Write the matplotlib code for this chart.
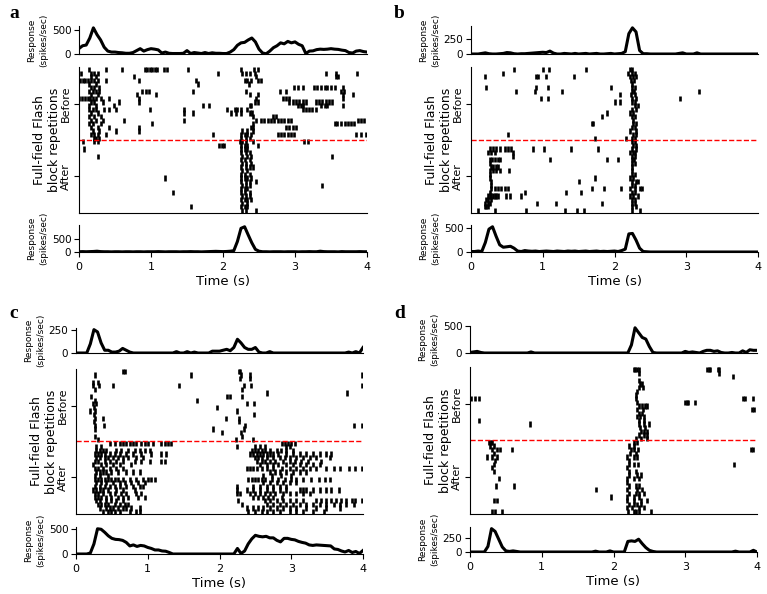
import numpy as np
import matplotlib
matplotlib.use("Agg")
import matplotlib.pyplot as plt

# ---------------- data ----------------
time_grid = [round(0.05 * i, 2) for i in range(81)]  # seconds

a_top = [113,170,185,330,540,400,290,140,60,40, 40,30,25,15,15,30,70,110,60,90,
         110,100,85,20,40,15,10,10,10,15, 70,10,30,20,10,30,10,25,15,15,
         10,10,40,90,180,230,240,290,330,250, 100,20,5,60,130,170,230,210,260,230,
         250,200,170,10,60,65,90,100,95,100, 110,100,95,80,70,30,20,60,70,50, 40]
a_bot = [10,15,10,15,20,30,15,10,10,5, 10,10,5,10,10,5,10,10,5,10,
         10,10,15,10,5,10,10,10,5,10, 10,15,10,10,5,10,15,20,25,20,
         15,20,30,50,400,900,960,650,350,100, 30,10,10,5,10,10,10,5,10,10,
         10,5,10,10,15,10,10,30,15,10, 10,10,5,15,10,10,10,10,15,10, 10]
b_top = [0,0,0,10,20,5,0,0,5,10, 25,20,5,0,5,5,10,15,20,25,
         30,25,50,15,0,0,10,5,0,10, 0,5,10,0,5,10,0,0,5,10,
         0,5,10,40,350,450,380,60,5,5, 0,0,0,0,0,0,0,0,10,20,
         0,0,0,20,0,0,0,0,0,0, 0,0,0,0,0,0,0,0,0,0, 0]
b_bot = [10,10,20,10,200,480,530,330,150,100, 110,120,80,20,10,30,20,15,20,10,
         15,20,15,10,20,15,10,20,15,20, 10,15,20,10,15,20,10,15,10,15,
         20,10,30,60,380,390,250,80,10,5, 0,0,0,0,0,0,0,0,0,0,
         0,0,0,0,0,0,0,0,0,0, 0,0,0,0,0,0,0,0,0,0, 0]
c_top = [0,0,0,0,100,255,230,110,30,30, 10,10,20,50,30,10,0,0,0,0,
         0,0,0,0,0,0,0,0,15,0, 0,15,0,10,0,0,0,0,20,20,
         20,30,40,25,60,150,110,60,40,40, 60,10,0,0,15,0,0,0,0,0,
         0,0,0,0,0,0,0,0,0,0, 0,0,0,0,0,0,10,0,15,0, 60]
c_bot = [0,0,0,0,20,200,500,490,430,360, 310,290,285,270,230,160,180,150,170,160,
         130,110,80,80,60,55,30,0,0,0, 0,0,0,0,0,0,0,0,0,0,
         0,0,0,0,0,110,10,60,200,300, 370,350,340,350,320,320,270,240,310,310,
         290,280,250,230,215,180,170,180,175,170, 165,160,100,90,60,40,70,30,50,10, 70]
d_top = [10,20,30,10,0,0,0,0,0,0, 0,0,0,0,0,0,0,20,0,0,
         0,0,0,0,0,0,0,0,0,0, 0,0,0,0,0,0,0,0,0,0,
         0,0,0,0,0,150,470,380,290,260, 120,10,0,0,0,0,0,0,0,0,
         30,10,20,10,0,30,50,50,30,40, 10,0,0,10,0,0,40,10,60,50, 50]
d_bot = [0,0,0,0,0,100,420,370,230,90, 20,10,20,10,0,0,0,0,0,0,
         0,0,0,0,0,0,0,0,0,0, 0,0,0,0,0,15,0,0,0,20,
         0,0,0,0,190,200,190,230,150,80, 30,10,0,0,0,0,0,0,0,0,
         0,0,0,0,0,0,0,0,0,0, 0,0,0,0,15,0,0,0,0,30, 0]

# spike times (s), rows listed top -> bottom
a_before = [
    [0.14,0.37,0.60,0.91,0.94,0.98,1.02,1.06,1.09,1.18,1.22,1.51,2.25,2.43,2.48],
    [0.03,0.17,0.21,0.27,1.93,2.27,2.32,2.37,2.45,3.43,3.57,3.86],
    [0.17,0.24,0.77,2.46,3.57,3.60],
    [0.01,0.05,0.09,0.13,0.17,0.21,0.26,0.37,0.84,1.63,2.30,2.34,2.39,2.48,2.53],
    [0.14,0.24,1.65,2.36],
    [0.17,0.21,0.28,2.99,3.04,3.11,3.27,3.31,3.36,3.41,3.45,3.50,3.55,3.66],
    [0.14,0.19,0.24,0.28,0.88,0.93,0.97,1.58,2.32,2.79,2.87,3.64,3.68],
    [0.17,0.26,0.81,1.07,2.37,2.48,3.66,3.80],
    [0.00,0.04,0.08,0.12,0.15,0.19,0.24,0.31,0.42,0.84,2.46,2.83,2.88,2.92,3.66],
    [0.17,0.21,0.33,0.56,0.84,2.44,2.48,2.92,2.97,3.01,3.06,3.11,3.15,3.29,3.34,3.38,3.43,3.47,3.52],
    [0.14,0.24,0.49,1.72,1.81,2.37,2.39,3.04,3.08,3.11,3.36,3.41,3.45,3.67],
    [0.14,0.19,0.24,0.35,0.41,0.51,0.98,1.46,2.06,2.16,2.20,2.25,2.34,3.11,3.15,3.20,3.24,3.29],
    [0.17,0.26,1.46,1.58,2.11,2.18,2.25,2.37,2.40],
    [0.14,0.21,0.31,2.41,2.69,2.74],
    [0.17,0.24,0.33,0.63,1.46,2.46,2.53,2.57,2.62,2.67,2.71,2.76,2.81,2.85,2.90,2.94,3.87,3.92,3.96],
    [0.14,0.19,0.31,1.02,2.41,3.55,3.59,3.64,3.69,3.73,3.78,3.82],
    [0.17,0.26,0.42,0.84,2.39,2.41,2.88,2.92,2.97,3.01],
    [0.19,0.28,0.51,0.84,2.27,2.34,2.41],
    [0.17,0.21,0.26,0.38,1.86,2.25,2.30,2.34,2.39,2.76,2.81,2.85,2.90,2.94,2.99,3.85,3.92,3.99],
    [0.21,0.24,0.28,2.25,2.32,2.37],
]
a_after = [
    [0.05,0.21,0.26,2.23,2.27,2.32,2.41,3.13,3.18],
    [1.95,1.98,2.02,2.25,2.30,2.34,2.48],
    [0.07,2.25,2.30,2.34],
    [2.25,2.32,2.37],
    [0.26,2.27,2.34,2.39,3.52],
    [2.25,2.30,2.37],
    [2.27,2.32,2.39],
    [2.25,2.32,2.37,2.41],
    [2.27,2.34],
    [2.25,2.30,2.37],
    [1.20,2.25,2.30,2.34,2.39],
    [2.25,2.32,2.37,2.46],
    [2.27,2.32,2.37,3.38],
    [2.25,2.30,2.34],
    [1.31,2.25,2.30,2.37],
    [2.27,2.32,2.37],
    [2.25,2.30,2.34,2.39],
    [2.27,2.34],
    [1.55,2.25,2.30,2.34],
    [2.27,2.32,2.46],
]
b_before = [
    [0.60,1.00,1.09,1.60,2.21,2.24],
    [0.44,2.19,2.24,2.28],
    [0.19,0.91,0.94,1.04,1.43,2.21,2.26,2.30],
    [2.23,2.27],
    [2.25],
    [0.21,0.91,1.07,1.95,2.24,2.28],
    [0.63,0.89,1.27,2.24,2.27,3.18],
    [2.07,2.23,2.28],
    [0.97,1.07,2.25,2.30,2.91],
    [2.00,2.07,2.25,2.28],
    [2.28,2.33],
    [2.24,2.30],
    [1.89,2.21,2.26],
    [1.82,2.24,2.28],
    [2.26],
    [1.68,1.70,2.26,2.30],
    [2.24,2.28],
    [2.21,2.30],
    [0.52,2.26,2.30],
    [1.73,2.16,2.24,2.28],
]
b_after = [
    [2.24,2.28],
    [2.26,2.30],
    [0.26,0.31,0.35,0.40,0.47,0.52,0.56,0.86,1.02,1.40,1.77,2.25,2.30],
    [0.24,0.28,0.33,0.59,2.21,2.26,2.28],
    [0.59,2.24,2.28],
    [0.26,0.29,0.33,0.37,0.40,1.10,1.90,2.05,2.24,2.27],
    [0.26,2.25,2.28],
    [0.28,0.31,0.35,0.38,2.24],
    [0.26,0.31,0.35,0.40,0.53,2.24],
    [0.26,2.24,2.28],
    [0.26,1.73,2.21,2.26],
    [0.28,1.50,2.24,2.30,2.33],
    [0.28,2.25,2.28],
    [0.28,0.33,0.37,0.42,0.47,0.52,1.69,1.86,2.09,2.21,2.28,2.35,2.38],
    [0.26,0.75,1.32,1.54,2.24,2.28],
    [0.24,0.26,0.28,0.31,0.33,0.35,0.38,0.49,0.54,0.70,2.21,2.26,2.33],
    [0.21,0.24,0.28,2.24,2.28],
    [0.19,0.23,0.27,0.92,1.19,1.82,2.24,2.28],
    [0.19,0.21,0.24,2.25,2.30],
    [0.10,0.33,0.76,1.31,1.48,1.58,2.25,2.35],
]
c_before = [
    [0.66,0.68,2.27,2.29],
    [0.27,1.60,2.30,2.43,3.99],
    [2.29,2.42],
    [0.24,0.31],
    [0.23,0.32,0.51,1.43,2.34,2.44,3.98],
    [0.27,2.31],
    [2.66,3.78],
    [0.21,2.10,2.15,2.31],
    [0.27,1.68],
    [0.24,0.28,2.39,2.48],
    [0.25,1.97],
    [0.20,0.26,2.25],
    [0.25,2.48],
    [0.26,0.38,2.09,2.27],
    [0.25,2.27],
    [0.27,0.39,2.36,3.87,3.98],
    [0.27,1.91,2.34],
    [2.04,2.30],
    [0.27,2.32],
    [0.31,2.23,2.47],
]
c_after = [
    [0.47,0.54,0.61,0.66,0.70,0.75,0.80,0.84,0.91,0.96,1.00,1.07,1.19,1.24,1.28,1.33,2.87,2.91,2.96,3.00,3.05],
    [0.28,0.35,2.24,2.50,2.56,2.63,2.93,2.98],
    [0.28,0.33,0.38,0.42,0.56,0.63,0.73,0.82,0.89,0.96,1.03,2.45,2.49,2.54,2.59,2.63,2.70,2.80,2.86,2.93,3.03],
    [0.26,0.31,0.35,0.40,0.47,0.54,0.61,0.70,0.80,0.91,1.05,1.19,1.26,2.42,2.47,2.52,2.56,2.61,2.66,2.70,2.75,2.82,2.93,3.03,3.12,3.21,3.31,3.40,3.49,3.56],
    [0.28,0.33,0.40,0.45,0.52,0.59,0.66,0.73,0.84,0.93,2.49,2.54,2.59,2.66,2.75,2.84,2.91,2.98,3.07,3.17,3.26,3.35,3.54],
    [0.26,0.31,0.40,0.47,0.56,0.66,0.82,0.91,1.03,1.19,1.24,2.52,2.59,2.63,2.70,2.77,2.89,2.98,3.05,3.14,3.24,3.42],
    [0.24,0.35,0.42,0.52,0.61,0.77,2.56,2.66,2.75,2.82,2.93,3.03,3.12,3.21,3.31,3.40],
    [0.26,0.31,0.38,0.47,0.56,0.66,2.38,2.42,2.47,2.52,2.59,2.66,2.75,2.87,2.98,3.07,3.17,3.26,3.35,3.49,3.59,3.68,3.80,3.89,3.98],
    [0.28,0.33,0.38,0.42,0.49,0.59,0.70,0.80,0.89,2.70,2.77,2.84,2.93,3.03,3.12,3.21],
    [0.26,0.33,0.45,2.61,2.73,2.86,3.00],
    [0.26,0.31,0.35,0.40,0.45,0.49,0.54,0.59,0.66,0.75,0.84,0.93,1.00,1.05,1.10,2.40,2.45,2.49,2.54,2.59,2.63,2.73,2.82,2.91,3.00,3.07,3.17,3.28,3.38,3.47,3.54],
    [0.28,0.35,0.42,0.52,0.61,0.68,0.77,0.87,0.96,2.61,2.70,2.80,2.89,2.98,3.07],
    [0.26,0.33,0.40,0.47,0.54,0.61,0.70,0.80,0.89,0.93,2.24,2.47,2.56,2.66,2.75,2.84,2.93],
    [0.24,0.28,0.33,0.38,0.45,0.56,0.66,0.82,2.24,2.38,2.47,2.56,2.66,2.75,2.84,2.93,3.12,3.17,3.21,3.31,3.40,3.49,3.56,3.66],
    [0.26,0.31,0.38,0.47,0.54,0.63,0.70,0.84,0.91,2.24,2.28,2.42,2.49,2.56,2.63,2.70,2.77,2.89,2.98,3.07,3.17,3.26],
    [0.26,0.31,0.35,0.42,0.49,0.59,0.66,0.73,0.87,0.96,2.47,2.54,2.61,2.68,2.75,2.87],
    [0.28,0.33,0.42,0.49,0.56,0.66,2.26,2.63,2.70,2.80,2.89,2.98,3.07,3.17,3.35,3.42,3.49,3.56,3.63,3.70,3.77,3.84,3.89,3.98],
    [0.31,0.35,0.40,0.45,0.54,0.61,0.68,0.73,2.31,2.66,2.75,2.84,2.93,3.03,3.12,3.21,3.31,3.40,3.49,3.59,3.68,3.77,3.87],
    [0.33,0.42,0.47,0.52,0.59,0.66,0.70,0.77,0.89,2.38,2.47,2.54,2.61,2.70,2.80,2.89,2.98,3.07,3.21,3.35,3.49,3.68],
    [0.38,0.45,0.49,0.54,0.61,0.75,0.84,0.89,2.40,2.49,2.59,2.66,2.75,2.84,2.98,3.07,3.17,3.31,3.45],
]
d_before = [
    [2.28,2.30,2.33,2.35,3.31,3.33,3.35,3.45,3.47],
    [2.35,3.47],
    [3.66],
    [2.36],
    [2.37,2.40],
    [2.35,2.41],
    [2.33],
    [2.31],
    [0.01,0.07,0.12,2.31,3.81,3.83,3.95],
    [2.33,3.00,3.02,3.04,3.13],
    [2.35,2.40,2.44,2.47],
    [2.33,2.41,3.93,3.96],
    [2.35,2.40],
    [2.33,2.37,2.42],
    [0.13,2.35,2.42],
    [0.84,2.35,2.42,2.49],
    [2.37,2.44],
    [2.38,2.42,2.47],
    [2.35,2.42,2.47],
    [2.31,2.38,2.47],
]
d_after = [
    [0.26,0.29,0.31,2.28,2.33],
    [0.28,0.33,2.21,2.28],
    [0.31,0.38,0.42,0.59,2.24,2.28,2.34,3.91,3.95],
    [0.33,2.23,2.31],
    [0.23,0.31,0.38,2.19,2.28,2.33],
    [0.35,2.21],
    [0.33,2.21,2.28,2.34,3.68],
    [0.31,2.19],
    [0.33,2.21,2.31],
    [2.21,2.33,2.38],
    [0.40,2.19,2.28,2.35],
    [2.19],
    [0.36,0.62,2.21,2.31,2.35],
    [1.75,2.19,2.33,2.40],
    [2.21,2.31,2.35,2.42],
    [1.97,2.19,2.28,2.35],
    [0.33,0.37,2.19,2.28,2.38,2.47],
    [2.21,2.28,2.33,2.38],
    [2.19,2.26,2.35,2.42],
    [0.31,0.35,0.45,2.20,2.28,2.32,2.35,2.52],
]

panel_labels = ["a", "b", "c", "d"]
top_ticks = [[0, 500], [0, 250], [0, 250], [0, 500]]
bot_ticks = [[0, 500], [0, 500], [0, 500], [0, 250]]
x_ticks = [0, 1, 2, 3, 4]
row_labels = ["Before", "After"]

# ---------------- layout (pixels) ----------------
W, H = 767, 594
fig = plt.figure(figsize=(W / 100, H / 100), dpi=100)
plt.rcParams['font.family'] = ['DejaVu Sans']


def px_axes(left, top, width, height):
    return fig.add_axes([left / W, 1 - (top + height) / H, width / W, height / H])


geom = {
    "a": dict(left=79, width=288, top=(26, 28), ras=(67, 146), bot=(225, 27), lab=(9, 14)),
    "b": dict(left=471, width=287, top=(26, 28), ras=(67, 146), bot=(225, 27), lab=(394, 14)),
    "c": dict(left=76, width=287, top=(328, 25), ras=(369, 145), bot=(527, 27), lab=(9, 313)),
    "d": dict(left=470, width=287, top=(326, 27), ras=(367, 147), bot=(527, 25), lab=(394, 313)),
}

panels = {
    "a": (a_top, a_before, a_after, a_bot),
    "b": (b_top, b_before, b_after, b_bot),
    "c": (c_top, c_before, c_after, c_bot),
    "d": (d_top, d_before, d_after, d_bot),
}

resp_label = "Response\n(spikes/sec)"


def style_resp(ax, ticks, g):
    for s in ("top", "right"):
        ax.spines[s].set_visible(False)
    ax.set_xlim(0, 4)
    ax.set_yticks(ticks)
    ax.tick_params(axis="y", labelsize=7.5, length=3.5, width=0.8, pad=2)
    ax.tick_params(axis="x", labelsize=8, length=3.5, width=0.8)
    ax.set_ylabel(resp_label, fontsize=6.5, linespacing=1.45)
    ax.yaxis.set_label_coords(-31 / g["width"], 0.5)


for idx, key in enumerate(panel_labels):
    g = geom[key]
    top_vals, before, after, bot_vals = panels[key]

    # top response
    ax_t = px_axes(g["left"], g["top"][0], g["width"], g["top"][1])
    ax_t.plot(time_grid, top_vals, color="black", lw=2.2, solid_joinstyle="round")
    ax_t.set_ylim(0, max(top_vals) * 1.07)
    style_resp(ax_t, top_ticks[idx], g)
    ax_t.set_xticks([])

    # raster
    ax_r = px_axes(g["left"], g["ras"][0], g["width"], g["ras"][1])
    nb, na = len(before), len(after)
    rows = before + after
    offsets = [nb + na - 1 - i for i in range(nb + na)]
    ax_r.eventplot(rows, lineoffsets=offsets, linelengths=1.45,
                   linewidths=1.9, colors="black")
    ax_r.axhline(na - 0.5, color="red", ls="--", lw=1.0)
    ax_r.set_xlim(0, 4)
    ax_r.set_ylim(-0.7, nb + na - 0.3)
    for s in ("top", "right"):
        ax_r.spines[s].set_visible(False)
    ax_r.set_xticks([])
    ax_r.set_yticks([na + nb / 2 - 0.5, na / 2 - 0.5])
    ax_r.set_yticklabels(row_labels, rotation=90, va="center", fontsize=8)
    ax_r.tick_params(axis="y", length=3.5, width=0.8, pad=2)
    ax_r.set_ylabel("Full-field Flash\nblock repetitions", fontsize=9)
    ax_r.yaxis.set_label_coords(-18 / g["width"], 0.5)

    # bottom response
    ax_b = px_axes(g["left"], g["bot"][0], g["width"], g["bot"][1])
    ax_b.plot(time_grid, bot_vals, color="black", lw=2.2, solid_joinstyle="round")
    ax_b.set_ylim(0, max(bot_vals) * 1.07)
    style_resp(ax_b, bot_ticks[idx], g)
    ax_b.set_xticks(x_ticks)
    ax_b.set_xlabel("Time (s)", fontsize=9.5, labelpad=2)

    fig.text(g["lab"][0] / W, 1 - g["lab"][1] / H, key, fontsize=14,
             fontweight="bold", family="Liberation Serif", ha="left", va="center")

fig.savefig("out.png", dpi=100)
